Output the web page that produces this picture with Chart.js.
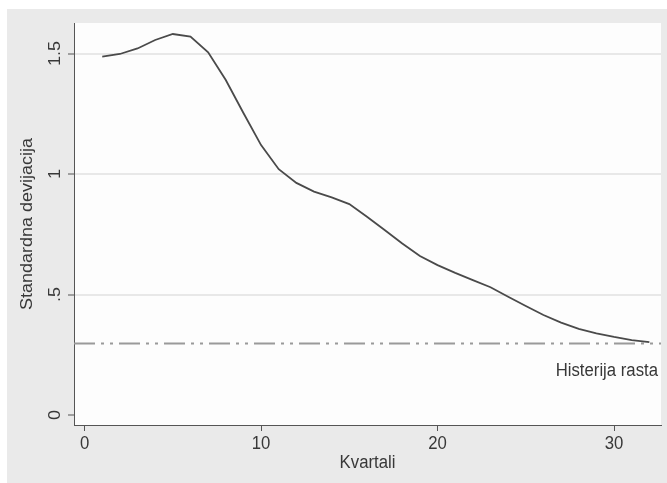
<!DOCTYPE html>
<html>
<head>
<meta charset="utf-8">
<script src="https://cdn.jsdelivr.net/npm/chart.js@4/dist/chart.umd.min.js"></script>
<style>
  html, body { margin: 0; padding: 0; background: #ffffff; }
  #wrap { width: 667px; height: 483px; position: relative; }
</style>
</head>
<body>
<div id="wrap"><canvas id="chart" width="667" height="483"></canvas></div>
<script>
// Quarter index on the horizontal axis
const quarters = [1, 2, 3, 4, 5, 6, 7, 8, 9, 10, 11, 12, 13, 14, 15, 16,
                  17, 18, 19, 20, 21, 22, 23, 24, 25, 26, 27, 28, 29, 30, 31, 32];
// Standard deviation per quarter
const stdDev = [1.487, 1.498, 1.521, 1.556, 1.581, 1.570, 1.505, 1.390,
                1.253, 1.120, 1.020, 0.963, 0.927, 0.903, 0.875, 0.823,
                0.768, 0.712, 0.660, 0.622, 0.590, 0.560, 0.530, 0.491,
                0.452, 0.415, 0.383, 0.357, 0.339, 0.324, 0.311, 0.302];
// Reference level for growth hysteresis
const hysteresisLevel = 0.297;
const hysteresisLabel = 'Histerija rasta';

const xTicks = [0, 10, 20, 30];
const yTicks = [0, 0.5, 1, 1.5];
const yTickLabels = ['0', '.5', '1', '1.5'];
const xTitle = 'Kvartali';
const yTitle = 'Standardna devijacija';

const X_MIN = -0.6, X_MAX = 32.66;
const Y_MIN = -0.0415, Y_MAX = 1.6266;

const FONT_FAMILY = "'Liberation Sans', Arial, Helvetica, sans-serif";
const TEXT_COLOR = '#383838';
const AXIS_COLOR = '#555555';
// Horizontal squeeze applied to all glyphs (screen space) for a narrower typeface look
const TEXT_SCALE_X = 0.93;

const font = { family: FONT_FAMILY, size: 18, lineHeight: 1.2 };

const linePoints = quarters.map((q, i) => ({ x: q, y: stdDev[i] }));
const refPoints = [{ x: X_MIN, y: hysteresisLevel }, { x: X_MAX, y: hysteresisLevel }];

const canvas = document.getElementById('chart');
const ctx2d = canvas.getContext('2d');
{
  const baseFillText = ctx2d.fillText.bind(ctx2d);
  ctx2d.fillText = function (text, x, y, maxWidth) {
    const m = this.getTransform();
    const p = m.transformPoint(new DOMPoint(x, y));
    const squeezed = new DOMMatrix()
      .translate(p.x, p.y)
      .scale(TEXT_SCALE_X, 1)
      .translate(-p.x, -p.y)
      .multiply(m);
    this.setTransform(squeezed);
    if (maxWidth === undefined) baseFillText(text, x, y);
    else baseFillText(text, x, y, maxWidth);
    this.setTransform(m);
  };
}

// Grey outer region and white plot region
const backgroundPlugin = {
  id: 'panelBackground',
  beforeDraw(chart) {
    const { ctx, chartArea } = chart;
    ctx.save();
    ctx.fillStyle = '#ffffff';
    ctx.fillRect(0, 0, chart.width, chart.height);
    ctx.fillStyle = '#eaeaea';
    ctx.fillRect(7, 9, chart.width - 7, chart.height - 9);
    ctx.fillStyle = '#fdfdfd';
    ctx.fillRect(chartArea.left, chartArea.top,
                 chartArea.right - chartArea.left, chartArea.bottom - chartArea.top);
    ctx.restore();
  }
};

// Text label under the reference line
const refLabelPlugin = {
  id: 'refLabel',
  afterDatasetsDraw(chart) {
    const { ctx, chartArea, scales } = chart;
    const y = scales.y.getPixelForValue(hysteresisLevel) + 28;
    ctx.save();
    ctx.font = `${font.size}px ${FONT_FAMILY}`;
    ctx.fillStyle = TEXT_COLOR;
    ctx.textAlign = 'right';
    ctx.textBaseline = 'middle';
    ctx.fillText(hysteresisLabel, chartArea.right - 3, y);
    ctx.restore();
  }
};

new Chart(canvas, {
  type: 'line',
  data: {
    datasets: [
      {
        data: linePoints,
        borderColor: '#4a4a4a',
        borderWidth: 1.8,
        pointRadius: 0,
        tension: 0,
        fill: false
      },
      {
        data: refPoints,
        borderColor: '#9a9a9a',
        borderWidth: 2,
        borderDash: [21, 6, 3, 6, 3, 6],
        pointRadius: 0,
        tension: 0,
        fill: false
      }
    ]
  },
  options: {
    responsive: false,
    animation: false,
    devicePixelRatio: 1,
    layout: { padding: { left: 7, top: 23, right: 6, bottom: 0 } },
    plugins: {
      legend: { display: false },
      tooltip: { enabled: false }
    },
    scales: {
      x: {
        type: 'linear',
        min: X_MIN,
        max: X_MAX,
        afterBuildTicks: s => { s.ticks = xTicks.map(v => ({ value: v })); },
        afterFit: s => { s.height = 58; },
        ticks: {
          font, color: TEXT_COLOR, padding: 2, autoSkip: false,
          minRotation: 0, maxRotation: 0,
          callback: v => String(v)
        },
        grid: { drawOnChartArea: false, tickLength: 6, tickColor: AXIS_COLOR, tickWidth: 1 },
        border: { color: AXIS_COLOR, width: 1 },
        title: {
          display: true, text: xTitle, font, color: TEXT_COLOR,
          padding: { top: 0, bottom: 9 }
        }
      },
      y: {
        type: 'linear',
        min: Y_MIN,
        max: Y_MAX,
        afterBuildTicks: s => { s.ticks = yTicks.map(v => ({ value: v })); },
        afterFit: s => { s.width = 67; },
        ticks: {
          font, color: TEXT_COLOR, padding: 0, autoSkip: false,
          minRotation: 90, maxRotation: 90, crossAlign: 'center',
          callback: v => yTickLabels[yTicks.indexOf(v)] ?? ''
        },
        grid: {
          color: c => (c.tick && c.tick.value === 0) ? 'rgba(0,0,0,0)' : '#e8e8e8',
          lineWidth: 2,
          tickLength: 6, tickColor: AXIS_COLOR, tickWidth: 1
        },
        border: { color: AXIS_COLOR, width: 1 },
        title: {
          display: true, text: yTitle, font, color: TEXT_COLOR,
          padding: { top: 10, bottom: 0 }
        }
      }
    }
  },
  plugins: [backgroundPlugin, refLabelPlugin]
});
</script>
</body>
</html>
